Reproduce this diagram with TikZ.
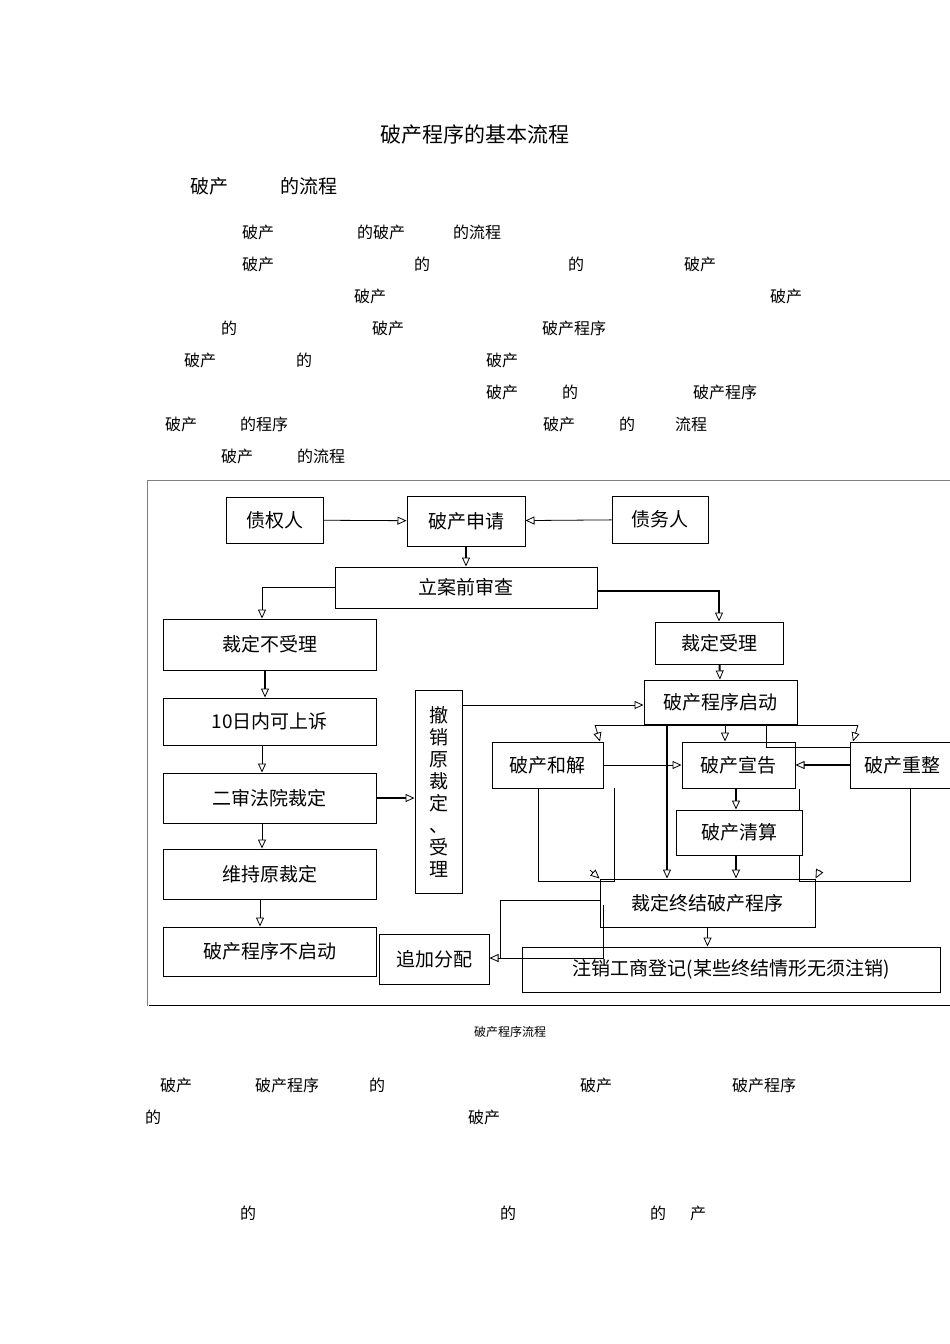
\documentclass[tikz,border=0pt]{standalone}
\usepackage{fontspec}
\setmainfont{Noto Sans CJK SC}
\usetikzlibrary{arrows.meta}
\begin{document}
\begin{tikzpicture}[x=1pt,y=-1pt,
 bx/.style={draw,line width=1pt,inner sep=0pt,font=\fontsize{19}{19}\selectfont},
 ar/.style={-{Triangle[open,length=9pt,width=8pt,line width=0.8pt]},line width=0.8pt},
 dl/.style={-{Triangle[open,length=9pt,width=8pt,line width=0.8pt]},line width=2pt},
 ln/.style={line width=0.8pt},
 tx/.style={anchor=west,inner sep=0pt,font=\fontsize{16}{16}\selectfont}]
\useasboundingbox (0,0) rectangle (950,1344);
\node[font=\fontsize{21}{21}\selectfont] (title) at (475,135) {破产程序的基本流程};
\node[tx,font=\fontsize{19}{19}\selectfont] (h1) at (190,186) {破产};
\node[tx,font=\fontsize{19}{19}\selectfont] (h2) at (280,186) {的流程};
\foreach \x/\y/\t [count=\i] in {242/232/破产,357/232/的破产,453/232/的流程,
 242/264/破产,414/264/的,568/264/的,684/264/破产,
 354/296/破产,770/296/破产,
 221/328/的,372/328/破产,542/328/破产程序,
 184/360/破产,296/360/的,486/360/破产,
 486/392/破产,562/392/的,693/392/破产程序,
 165/424/破产,240/424/的程序,543/424/破产,619/424/的,675/424/流程,
 221/456/破产,297/456/的流程,
 160/1085/破产,255/1085/破产程序,369/1085/的,580/1085/破产,732/1085/破产程序,
 145/1117/的,468/1117/破产,
 240/1213/的,500/1213/的,650/1213/的,690/1213/产}
 {\node[tx] (t\i) at (\x,\y) {\t};}
\node[font=\fontsize{12}{12}\selectfont] (cap) at (510,1032) {破产程序流程};
\draw[line width=0.8pt,gray] (147,1006) -- (147,480) -- (950,480);
\draw[line width=1pt] (149,1005) -- (950,1005);
% boxes
\node[bx,minimum width=97pt,minimum height=46pt] (zq) at (274.5,520) {债权人};
\node[bx,minimum width=118pt,minimum height=50pt] (sq) at (466,521) {破产申请};
\node[bx,minimum width=96pt,minimum height=47pt] (zw) at (660,519.5) {债务人};
\node[bx,minimum width=262pt,minimum height=41pt] (la) at (466,587.5) {立案前审查};
\node[bx,minimum width=213pt,minimum height=51pt] (bsl) at (269.5,644.5) {裁定不受理};
\node[bx,minimum width=128pt,minimum height=42pt] (sl) at (719,643) {裁定受理};
\node[bx,minimum width=213pt,minimum height=47pt] (sr) at (269.5,721.5) {10日内可上诉};
\node[bx,minimum width=153pt,minimum height=44pt] (qd) at (720.5,702) {破产程序启动};
\node[bx,minimum width=47pt,minimum height=203pt,align=center,font=\fontsize{19}{22}\selectfont] (cx) at (438.5,791.5) {撤\\销\\原\\裁\\定\\、\\受\\理};
\node[bx,minimum width=213pt,minimum height=50pt] (es) at (269.5,798) {二审法院裁定};
\node[bx,minimum width=213pt,minimum height=50pt] (wc) at (269.5,874) {维持原裁定};
\node[bx,minimum width=213pt,minimum height=49pt] (bqd) at (269.5,951.5) {破产程序不启动};
\node[bx,minimum width=111pt,minimum height=46pt] (hj) at (547.5,765) {破产和解};
\node[bx,minimum width=113pt,minimum height=46pt] (xg) at (738.5,765) {破产宣告};
\node[bx,minimum width=104pt,minimum height=46pt,anchor=west] (cz) at (850,765) {破产重整};
\node[bx,minimum width=126pt,minimum height=45pt] (qs) at (739,832.5) {破产清算};
\node[bx,minimum width=215pt,minimum height=48pt] (zj) at (707.5,903) {裁定终结破产程序};
\node[bx,minimum width=110pt,minimum height=50pt] (zf) at (434,959) {追加分配};
\node[bx,minimum width=418pt,minimum height=45pt] (zx) at (731,969.5) {注销工商登记(某些终结情形无须注销)};
% connectors
\draw[ar] (zq) -- (sq);
\draw[ar] (zw) -- (sq);
\draw[dl] (sq) -- (la);
\draw[ar] (la.west) -| (bsl.north -| 262,0);
\draw[dl] (la.east |- 0,591) -| (sl.north);
\draw[dl] (bsl.south -| 265,0) -- (sr.north -| 265,0);
\draw[ar] (sr.south -| 262,0) -- (es.north -| 262,0);
\draw[ar] (es.south -| 262,0) -- (wc.north -| 262,0);
\draw[ar] (wc.south -| 260,0) -- (bqd.north -| 260,0);
\draw[dl] (es.east) -- (cx.west |- es.east);
\draw[ar] (cx.north east |- 0,705) -- (qd.west |- 0,705);
\draw[dl] (sl) -- (qd);
\draw[ln] (595,725) -- (858,725);
\draw[ar] (595,725) -- (hj.north -| 600,0);
\draw[ar] (725,725) -- (xg.north -| 725,0);
\draw[ln] (766,725) -- (766,747) -- (850,747);
\draw[ar] (858,725) -- (cz.north -| 853,0);
\draw[dl] (qd.south -| 667,0) -- (zj.north -| 667,0);
\draw[ar] (hj) -- (xg);
\draw[dl] (cz) -- (xg);
\draw[dl] (xg.south -| 736,0) -- (qs.north -| 736,0);
\draw[dl] (qs.south -| 736,0) -- (zj.north -| 736,0);
\draw[ln] (hj.south -| 538,0) -- (538,881) -- (614,881) -- (614,788);
\draw[ar] (590,870) -- (zj.north west);
\draw[ln] (cz.south -| 910,0) -- (910,881) -- (799,881) -- (qs.south -| 799,0);
\draw[ln] (xg.south -| 799,0) -- (qs.north -| 799,0);
\draw[ar] (820,870) -- (zj.north east);
\draw[ar] (zj) -- (zx.north -| zj.south);
\draw[ln] (zj.west |- 0,900) -- (500,900) -- (500,958);
\draw[ar] (603,905) -- (603,958) -- (zf.east |- 0,958);
\end{tikzpicture}
\end{document}
